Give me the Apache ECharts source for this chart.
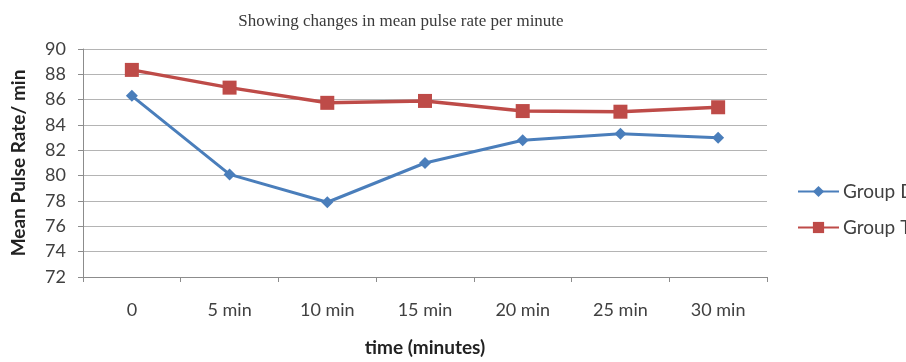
<!DOCTYPE html>
<html>
<head>
<meta charset="utf-8">
<script src="https://cdn.jsdelivr.net/npm/echarts@6/dist/echarts.min.js"></script>
<style>
  html, body { margin: 0; padding: 0; background: #fff; }
  #chart { width: 906px; height: 362px; }
</style>
</head>
<body>
<div id="chart"></div>
<script>
// Time points after start
const categories = ['0', '5 min', '10 min', '15 min', '20 min', '25 min', '30 min'];
// Mean pulse rate per minute for each group
const groupD = [86.3, 80.1, 77.9, 81.0, 82.8, 83.3, 83.0];
const groupT = [88.35, 86.95, 85.75, 85.9, 85.1, 85.05, 85.4];
// Y axis range and step
const yMin = 72, yMax = 90, yStep = 2;

const labelFont = 'Lato, "Open Sans", sans-serif';
const chart = echarts.init(document.getElementById('chart'), null, { renderer: 'canvas' });

chart.setOption({
  animation: false,
  backgroundColor: '#ffffff',
  title: {
    text: 'Showing changes in mean pulse rate per minute',
    left: 396,
    textAlign: 'center',
    top: 8,
    textStyle: { fontFamily: '"Liberation Serif", serif', fontSize: 17, fontWeight: 'normal', color: '#3a3a3a' }
  },
  legend: {
    orient: 'vertical',
    left: 797,
    top: 182,
    width: 300,
    padding: 0,
    itemWidth: 41,
    itemHeight: 14,
    itemGap: 17,
    textStyle: { fontFamily: labelFont, fontSize: 19, color: '#404040', overflow: 'none', padding: [0, 0, 0, -1] },
    data: ['Group D', 'Group T']
  },
  grid: { left: 83, right: 139, top: 49, bottom: 83, containLabel: false },
  xAxis: {
    type: 'category',
    data: categories,
    boundaryGap: true,
    name: 'time (minutes)',
    nameLocation: 'middle',
    nameGap: 61,
    nameTextStyle: { fontFamily: labelFont, fontSize: 19, fontWeight: 'bold', color: '#222' },
    axisLine: { lineStyle: { color: '#8c8c8c', width: 1 } },
    axisTick: { show: true, alignWithLabel: false, length: 5, lineStyle: { color: '#8c8c8c' } },
    axisLabel: { fontFamily: labelFont, fontSize: 18, color: '#404040', margin: 24 },
    splitLine: { show: false }
  },
  yAxis: {
    type: 'value',
    min: yMin,
    max: yMax,
    interval: yStep,
    name: 'Mean Pulse Rate/ min',
    nameLocation: 'middle',
    nameGap: 55,
    nameRotate: 90,
    nameTextStyle: { fontFamily: labelFont, fontSize: 19, fontWeight: 'bold', color: '#222' },
    axisLine: { show: true, lineStyle: { color: '#8c8c8c', width: 1 } },
    axisTick: { show: true, length: 5, lineStyle: { color: '#8c8c8c' } },
    axisLabel: { fontFamily: labelFont, fontSize: 18, color: '#404040', margin: 17 },
    splitLine: { show: true, lineStyle: { color: '#b4b4b4', width: 1.2 } }
  },
  series: [
    {
      name: 'Group D',
      type: 'line',
      data: groupD,
      symbol: 'diamond',
      symbolSize: 12,
      itemStyle: { color: '#4a7ebb' },
      lineStyle: { color: '#4a7ebb', width: 3 }
    },
    {
      name: 'Group T',
      type: 'line',
      data: groupT,
      symbol: 'rect',
      symbolSize: 14,
      itemStyle: { color: '#be4b48' },
      lineStyle: { color: '#be4b48', width: 3.5 }
    }
  ]
});
</script>
</body>
</html>
